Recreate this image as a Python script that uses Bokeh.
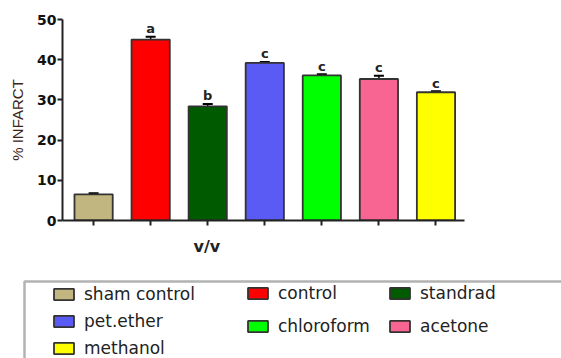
from bokeh.plotting import figure
from bokeh.models import (ColumnDataSource, Range1d, FixedTicker, Whisker, TeeHead,
                          Title, Legend, LegendItem, BoxAnnotation)
from bokeh.core.properties import value
from bokeh.embed import file_html
from bokeh.resources import INLINE

# ---- data ----
groups = ["sham control", "control", "standrad", "pet.ether", "chloroform", "acetone", "methanol"]
infarct = [6.5, 45.0, 28.4, 39.2, 36.1, 35.2, 31.9]
sem = [0.3, 0.7, 0.6, 0.25, 0.25, 0.8, 0.25]
letters = ["", "a", "b", "c", "c", "c", "c"]
colors = ["#C2B680", "#FF0000", "#005A00", "#5A5AF5", "#00FF00", "#F86592", "#FFFF00"]
y_ticks = [0, 10, 20, 30, 40, 50]

xs = list(range(len(groups)))
src = ColumnDataSource(dict(
    x=xs, top=infarct, color=colors,
    upper=[v + e for v, e in zip(infarct, sem)],
    lower=[v - e for v, e in zip(infarct, sem)],
    letter=letters,
))

p = figure(width=561, height=270, output_backend="svg", toolbar_location=None,
           x_range=Range1d(-0.545, 6.5), y_range=Range1d(0, 50),
           min_border_left=62, min_border_right=97, min_border_top=19, min_border_bottom=50)
p.grid.visible = False
p.outline_line_color = None

p.vbar(x="x", top="top", width=0.67, source=src, fill_color="color",
       line_color="#333333", line_width=1.8)

w = Whisker(source=src, base="x", upper="upper", lower="lower",
            line_color="black", line_width=1.5,
            upper_head=TeeHead(size=10, line_width=2, line_color="black"),
            lower_head=TeeHead(size=10, line_width=2, line_color="black"))
p.add_layout(w)

p.text(x="x", y="upper", text="letter", source=src, text_align="center",
       text_baseline="alphabetic", y_offset=-8,
       text_font=value("DejaVu Sans"), text_font_style="bold",
       text_font_size="13px", text_color="#222222")

# y axis
ya = p.yaxis[0]
ya.ticker = FixedTicker(ticks=y_ticks)
ya.axis_label = "% INFARCT"
ya.axis_label_text_font = "Liberation Sans"
ya.axis_label_text_font_style = "normal"
ya.axis_label_text_font_size = "15px"
ya.axis_label_text_color = "#3c2415"
ya.axis_label_standoff = 8
ya.major_label_text_font = "DejaVu Sans"
ya.major_label_text_font_style = "bold"
ya.major_label_text_font_size = "14px"
ya.major_label_text_color = "#111111"
ya.major_label_standoff = 1
ya.axis_line_width = 2
ya.axis_line_color = "#222222"
ya.major_tick_line_width = 2
ya.major_tick_line_color = "#222222"
ya.major_tick_out = 5
ya.major_tick_in = 0
ya.minor_tick_line_color = None

# x axis
xa = p.xaxis[0]
xa.ticker = FixedTicker(ticks=xs)
xa.major_label_overrides = {i: "" for i in xs}
xa.major_label_text_font_size = "1px"
xa.axis_line_width = 2
xa.axis_line_color = "#222222"
xa.major_tick_line_width = 2
xa.major_tick_line_color = "#222222"
xa.major_tick_out = 5
xa.major_tick_in = 0
xa.minor_tick_line_color = None

p.add_layout(Title(text="v/v", align="left", offset=131, standoff=18,
                   text_font="DejaVu Sans", text_font_style="bold",
                   text_font_size="16px", text_color="#222222"), "below")

# ---- legend panel ----
lf = figure(width=561, height=88, output_backend="svg", toolbar_location=None,
            x_range=Range1d(0, 561), y_range=Range1d(0, 88),
            min_border_left=0, min_border_right=0,
            min_border_top=0, min_border_bottom=0)
lf.axis.visible = False
lf.grid.visible = False
lf.outline_line_color = None
lf.add_layout(BoxAnnotation(left=24, right=700, top=77, bottom=-30,
                            fill_alpha=0, line_color="black", line_width=2.5))

leg_r = lf.vbar(x="x", top="top", width=0.67, source=src, fill_color="color",
                line_color="#333333", line_width=1.8, visible=False)

def make_legend(idx, loc, spacing):
    lg = Legend(items=[LegendItem(label=groups[i], renderers=[leg_r], index=i) for i in idx],
                location=loc, orientation="vertical", spacing=spacing,
                padding=0, margin=0, border_line_color=None, background_fill_alpha=0,
                glyph_width=25, glyph_height=14, label_height=20, label_standoff=8,
                label_text_font="DejaVu Sans", label_text_font_size="17px",
                label_text_color="#222222")
    lf.add_layout(lg, "center")

make_legend([0, 3, 6], (51, 0), 7)
make_legend([1, 4], (245, 22), 13)
make_legend([2, 5], (387, 22), 13)

open("out.html", "w").write(file_html([p, lf], INLINE))
